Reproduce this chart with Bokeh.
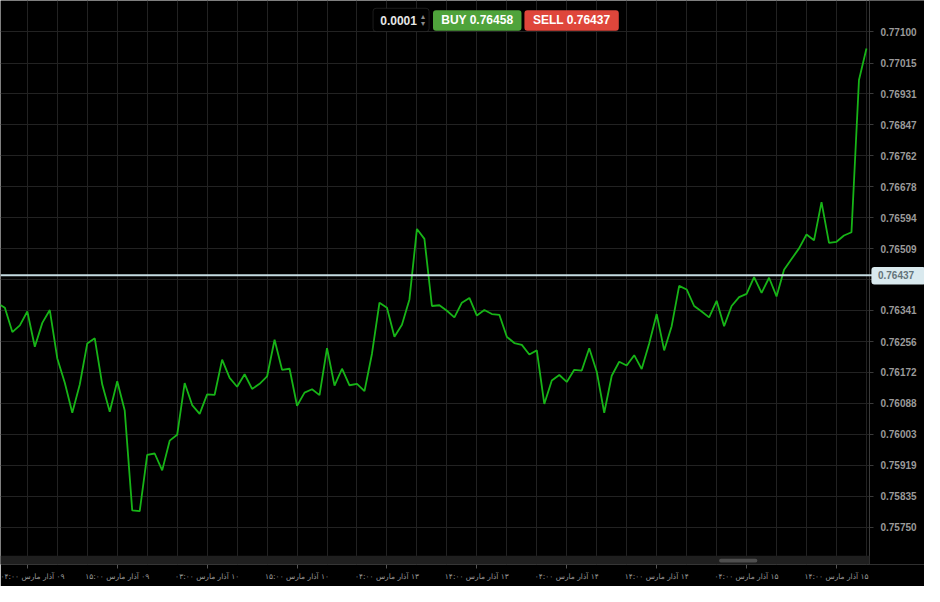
import numpy as np
from bokeh.plotting import figure
from bokeh.models import Range1d, FixedTicker, Span, Label, BoxAnnotation
from bokeh.embed import file_html
from bokeh.resources import INLINE

# ---------------- data ----------------
first_index = -1
prices = [
    0.76361, 0.76348, 0.76282, 0.76300, 0.76338, 0.76242, 0.76307, 0.76342, 0.76210, 0.76144,
    0.76062, 0.76139, 0.76251, 0.76265, 0.76139, 0.76065, 0.76148, 0.76068, 0.75796, 0.75794,
    0.75947, 0.75951, 0.75905, 0.75986, 0.76002, 0.76143, 0.76083, 0.76059, 0.76112, 0.76111,
    0.76207, 0.76157, 0.76133, 0.76167, 0.76127, 0.76141, 0.76161, 0.76261, 0.76179, 0.76182,
    0.76081, 0.76117, 0.76126, 0.76110, 0.76238, 0.76136, 0.76182, 0.76137, 0.76141, 0.76121,
    0.76223, 0.76362, 0.76348, 0.76269, 0.76302, 0.76371, 0.76563, 0.76536, 0.76353, 0.76355,
    0.76340, 0.76322, 0.76362, 0.76375, 0.76327, 0.76342, 0.76331, 0.76329, 0.76269, 0.76252,
    0.76247, 0.76221, 0.76232, 0.76086, 0.76150, 0.76165, 0.76146, 0.76179, 0.76177, 0.76238,
    0.76174, 0.76062, 0.76163, 0.76201, 0.76191, 0.76219, 0.76181, 0.76251, 0.76331, 0.76232,
    0.76298, 0.76408, 0.76398, 0.76353, 0.76338, 0.76322, 0.76367, 0.76298, 0.76353, 0.76377,
    0.76386, 0.76432, 0.76389, 0.76430, 0.76379, 0.76452, 0.76481, 0.76510, 0.76548, 0.76532,
    0.76636, 0.76525, 0.76528, 0.76545, 0.76554, 0.76969, 0.77055,
]

x_tick_index = [3, 15, 27, 39, 51, 63, 75, 87, 99, 111]
x_tick_labels = [
    "۰۹ آذار مارس ۰۴:۰۰",
    "۰۹ آذار مارس ۱۵:۰۰",
    "۱۰ آذار مارس ۰۳:۰۰",
    "۱۰ آذار مارس ۱۵:۰۰",
    "۱۳ آذار مارس ۰۴:۰۰",
    "۱۳ آذار مارس ۱۴:۰۰",
    "۱۴ آذار مارس ۰۴:۰۰",
    "۱۴ آذار مارس ۱۴:۰۰",
    "۱۵ آذار مارس ۰۴:۰۰",
    "۱۵ آذار مارس ۱۴:۰۰",
]
grid_every = 4

y_ticks = [0.75750, 0.75835, 0.75919, 0.76003, 0.76088, 0.76172, 0.76256, 0.76341, 0.76425,
           0.76509, 0.76594, 0.76678, 0.76762, 0.76847, 0.76931, 0.77015, 0.77100]
y_tick_labels = ["0.75750", "0.75835", "0.75919", "0.76003", "0.76088", "0.76172", "0.76256",
                 "0.76341", "", "0.76509", "0.76594", "0.76678", "0.76762", "0.76847",
                 "0.76931", "0.77015", "0.77100"]

current_price = 0.76437
buy_price = "0.76458"
sell_price = "0.76437"
lot_step = "0.0001"

RLM = "\u200f"  # keep the Arabic labels in right-to-left order

# ---------------- layout helpers (reference pixel -> data) ----------------
X0, DX = 4.43, 7.622
def xd(px):
    return (px - X0) / DX

def yd(py):
    return 0.77100 - (py - 32.3) / 37733.0

AXIS_PX = 884  # where the price scale sits

x = np.arange(first_index, first_index + len(prices))

p = figure(width=924, height=586, output_backend="svg", toolbar_location=None,
           x_range=Range1d(xd(0), xd(940)), y_range=Range1d(yd(580), yd(0)),
           y_axis_location="right",
           min_border_left=0, min_border_top=0, min_border_right=0, min_border_bottom=22,
           background_fill_color="black", border_fill_color="black",
           outline_line_color=None)

# grid
p.xgrid.ticker = FixedTicker(ticks=list(range(x_tick_index[0], int(x[-1]) + 1, grid_every)))
p.xgrid.grid_line_color = "#222222"
p.ygrid.grid_line_color = "#222222"

# axes
p.xaxis.ticker = FixedTicker(ticks=x_tick_index)
p.xaxis.major_label_overrides = {k: RLM + lab for k, lab in zip(x_tick_index, x_tick_labels)}
p.xaxis.axis_line_color = None
p.xaxis.major_tick_line_color = "#555555"
p.xaxis.major_tick_in = 0
p.xaxis.major_tick_out = 4
p.xaxis.minor_tick_line_color = None
p.xaxis.major_label_standoff = 3
p.xaxis.major_label_text_color = "#9a9a9a"
p.xaxis.major_label_text_font = "DejaVu Sans"
p.xaxis.major_label_text_font_size = "7.5px"
p.xaxis.major_label_text_font_style = "normal"

p.yaxis.fixed_location = xd(AXIS_PX)
p.yaxis.ticker = FixedTicker(ticks=y_ticks)
p.yaxis.major_label_overrides = {v: lab for v, lab in zip(y_ticks, y_tick_labels)}
p.yaxis.axis_line_color = "#3a3a3a"
p.yaxis.major_tick_line_color = "#3a3a3a"
p.yaxis.major_tick_in = 0
p.yaxis.major_tick_out = 4
p.yaxis.minor_tick_line_color = None
p.yaxis.major_label_standoff = 7
p.yaxis.major_label_text_color = "#9a9a9a"
p.yaxis.major_label_text_font = "Liberation Sans"
p.yaxis.major_label_text_font_size = "10px"
p.yaxis.major_label_text_font_style = "bold"

# black price-scale area right of the axis (hides grid there)
p.add_layout(BoxAnnotation(left=xd(AXIS_PX), fill_color="black", fill_alpha=1.0,
                           line_color=None, level="glyph"))

# price series
p.line(x, prices, line_color="#17b417", line_width=1.8)

# current price line and its tag on the scale
p.add_layout(Span(location=current_price, dimension="width",
                  line_color="#c5dce2", line_width=2))
p.add_layout(BoxAnnotation(left=xd(886), right=xd(941), top=yd(274), bottom=yd(292),
                           fill_color="#d9e9ee", fill_alpha=1.0, line_color=None,
                           border_radius=3))
p.add_layout(Label(x=xd(911), y=current_price, text=f"{current_price:.5f}",
                   text_align="center", text_baseline="middle",
                   text_font="Liberation Sans", text_font_size="10px", text_font_style="bold",
                   text_color="#64747a"))

# scrollbar band
p.add_layout(BoxAnnotation(right=xd(AXIS_PX), top=yd(571), fill_color="#1f1f1f",
                           fill_alpha=1.0, line_color=None))
p.add_layout(BoxAnnotation(left=xd(731), right=xd(770), bottom=yd(578), top=yd(574),
                           fill_color="#4f4f4f", fill_alpha=1.0, line_color=None,
                           border_radius=2))

# top controls
p.add_layout(BoxAnnotation(left=xd(379), right=xd(436), top=yd(8), bottom=yd(32),
                           fill_color="black", fill_alpha=1.0, line_color="#5c5c5c",
                           line_width=1, border_radius=3))
p.add_layout(BoxAnnotation(left=xd(440), right=xd(530), top=yd(10), bottom=yd(31),
                           fill_color="#4fa33b", fill_alpha=1.0, line_color=None,
                           border_radius=3))
p.add_layout(BoxAnnotation(left=xd(533), right=xd(629), top=yd(10), bottom=yd(31),
                           fill_color="#df463b", fill_alpha=1.0, line_color=None,
                           border_radius=3))

common = dict(text_align="center", text_baseline="middle", text_font="Liberation Sans",
              text_font_size="12px", text_font_style="bold")
p.add_layout(Label(x=xd(405), y=yd(20.5), text=lot_step, text_color="#e6e6e6", **common))
p.add_layout(Label(x=xd(429.5), y=yd(16), text="▴", text_color="#8a8a8a",
                   text_align="center", text_baseline="middle", text_font_size="8px"))
p.add_layout(Label(x=xd(429.5), y=yd(24), text="▾", text_color="#8a8a8a",
                   text_align="center", text_baseline="middle", text_font_size="8px"))
p.add_layout(Label(x=xd(485), y=yd(20.5), text=f"BUY {buy_price}", text_color="white", **common))
p.add_layout(Label(x=xd(581), y=yd(20.5), text=f"SELL {sell_price}", text_color="white", **common))

open("out.html", "w").write(file_html(p, INLINE))
